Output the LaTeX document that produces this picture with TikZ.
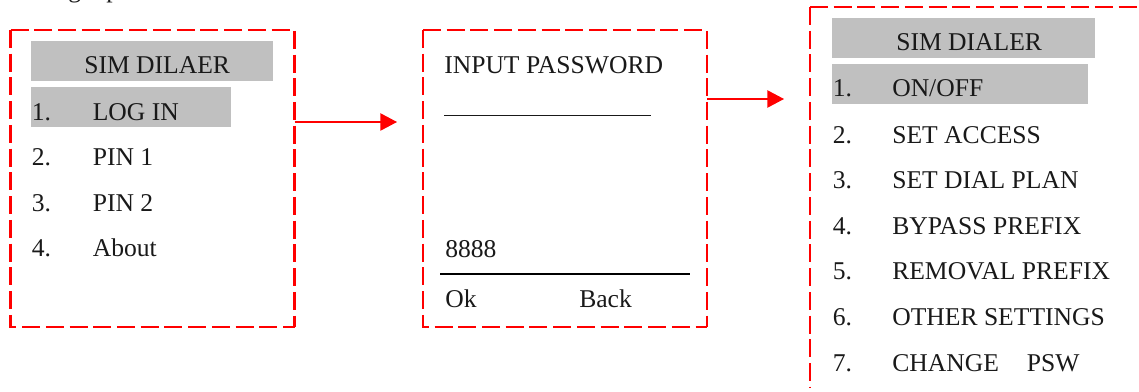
\documentclass[tikz,border=0pt]{standalone}
\usepackage{fontspec}
\setmainfont{Liberation Serif}
\usetikzlibrary{arrows.meta}
\definecolor{bargray}{RGB}{192,192,192}
\definecolor{inkc}{RGB}{25,25,25}
\tikzset{
 x=0.75pt,y=-0.75pt,
 screen/.style={draw=red,line width=1.6pt,dash pattern=on 13.5pt off 4.3pt},
 flow/.style={draw=red,line width=1pt,-{Triangle[length=12.5pt,width=13pt,fill=red]}},
 txt/.style={anchor=base west,inner sep=0pt,text=inkc,font=\fontsize{19.2pt}{23pt}\selectfont},
}
\begin{document}
\begin{tikzpicture}
\useasboundingbox (0,0) rectangle (1139,392);
\clip (0,0) rectangle (1139,392);
% descenders of the line cut off at the top edge
\node[txt] (topg) at (68,-2) {g};
\node[txt] (topp) at (106,-2) {p};
% screens
\draw[screen] (10.5,30) -- (294.5,30) -- (294.5,327);
\draw[screen] (10.5,30) -- (10.5,327) -- (294.5,327);
\draw[screen] (423,30) -- (707,30) -- (707,327);
\draw[screen] (423,30) -- (423,327) -- (707,327);
\draw[screen] (810,7) -- (1139,7);
\draw[screen] (810,7) -- (810,388);
% grey bars
\fill[bargray] (31,41.5) rectangle (273,81);
\fill[bargray] (31,87) rectangle (231,127);
\fill[bargray] (832,18.5) rectangle (1095,58.5);
\fill[bargray] (832,64) rectangle (1088,104);
% left screen
\node[txt] (a0) at (84,73.5) {SIM DILAER};
\foreach \n/\y/\t in {1/120.5/LOG IN,2/166/PIN 1,3/211.5/PIN 2,4/257/About}{
 \node[txt] (an\n) at (31.5,\y) {\n.};
 \node[txt] (at\n) at (92.5,\y) {\t};
}
% middle screen
\node[txt] (b0) at (444,73.5) {INPUT PASSWORD};
\draw[inkc,line width=0.7pt] (444,115) -- (651,115);
\node[txt] (b1) at (445,257.5) {8888};
\draw[black,line width=1.3pt] (440,274) -- (690,274);
\node[txt] (b2) at (445,307.5) {Ok};
\node[txt] (b3) at (579,307.5) {Back};
% right screen
\node[txt] (c0) at (896,50.5) {SIM DIALER};
\foreach \n/\y/\t in {1/97/{ON/OFF},2/143.5/SET ACCESS,3/188.5/SET DIAL PLAN,4/234/BYPASS PREFIX,5/279.5/REMOVAL PREFIX,6/325/OTHER SETTINGS,7/371/{CHANGE\hspace{21pt}PSW}}{
 \node[txt] (cn\n) at (832.5,\y) {\n.};
 \node[txt] (ct\n) at (892,\y) {\t};
}
% connectors
\coordinate (s1) at (294.5,122);
\coordinate (e1) at (397,122);
\coordinate (s2) at (707,99);
\coordinate (e2) at (784,99);
\draw[flow] (s1) -- (e1);
\draw[flow] (s2) -- (e2);
\end{tikzpicture}
\end{document}
